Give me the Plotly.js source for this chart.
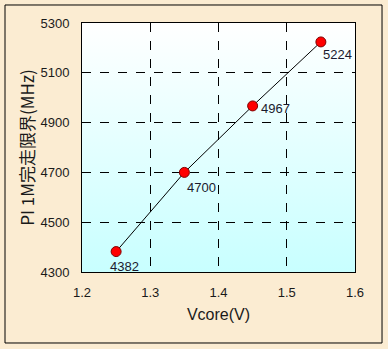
<!DOCTYPE html>
<html>
<head>
<meta charset="utf-8">
<script src="https://cdn.plot.ly/plotly-3.0.1.min.js"></script>
<style>html,body{margin:0;padding:0;background:#fbecd2;}#chart{width:388px;height:349px;}</style>
</head>
<body>
<div id="chart"></div>
<script>
var vcore = [1.25, 1.35, 1.45, 1.55];
var mhz = [4382, 4700, 4967, 5224];
var xTicks = [1.2, 1.3, 1.4, 1.5, 1.6];
var yTicks = [4300, 4500, 4700, 4900, 5100, 5300];
var labelAnchorX = ['left', 'left', 'left', 'left'];
var labelAnchorY = ['top', 'top', 'middle', 'top'];
var labelShiftX = [-8, 1, 6, 0];
var labelShiftY = [-5, -6, -3, -3];

var grad = '<svg xmlns="http://www.w3.org/2000/svg" width="100" height="100" preserveAspectRatio="none"><defs><linearGradient id="g" x1="0" y1="0" x2="0" y2="1"><stop offset="0" stop-color="#ffffff"/><stop offset="1" stop-color="#c8ffff"/></linearGradient></defs><rect width="100" height="100" fill="url(#g)"/></svg>';
var gradSrc = 'data:image/svg+xml;base64,' + btoa(grad);

var annotations = vcore.map(function (v, i) {
  return {
    x: v, y: mhz[i], xref: 'x', yref: 'y', text: String(mhz[i]), showarrow: false,
    xanchor: labelAnchorX[i], yanchor: labelAnchorY[i], xshift: labelShiftX[i], yshift: labelShiftY[i],
    font: {family: 'Liberation Sans, Arial, sans-serif', size: 13, color: '#1a1a2e'}
  };
});

var data = [{
  x: vcore, y: mhz, type: 'scatter', mode: 'lines+markers',
  line: {color: '#000000', width: 1},
  marker: {color: '#ff0000', size: 10, line: {color: '#800000', width: 1}},
  hoverinfo: 'x+y'
}];

var layout = {
  width: 388, height: 349,
  margin: {l: 82, r: 33, t: 23, b: 77},
  paper_bgcolor: '#fbecd2',
  plot_bgcolor: '#ffffff',
  showlegend: false,
  font: {family: 'Liberation Sans, Arial, sans-serif', size: 13, color: '#1a1a1a'},
  xaxis: {
    range: [1.2, 1.6], tickvals: xTicks, ticktext: xTicks.map(function (t) { return t.toFixed(1); }),
    showgrid: true, gridcolor: '#000000', griddash: 'dash', gridwidth: 1,
    showline: true, linecolor: '#000000', linewidth: 1, mirror: true,
    ticks: '', zeroline: false, ticklabelstandoff: 8,
    title: {text: 'Vcore(V)', font: {size: 16, family: 'Liberation Sans, Arial, sans-serif', color: '#1a1a1a'}, standoff: 10}
  },
  yaxis: {
    range: [4300, 5300], tickvals: yTicks,
    showgrid: true, gridcolor: '#000000', griddash: 'dash', gridwidth: 1,
    showline: true, linecolor: '#000000', linewidth: 1, mirror: true,
    ticks: '', zeroline: false, ticklabelstandoff: 9,
    title: {text: 'PI 1M完走限界(MHz)', font: {size: 17, family: 'Noto Sans CJK JP, sans-serif', color: '#1a1a1a'}, standoff: 1}
  },
  images: [{
    source: gradSrc, xref: 'paper', yref: 'paper', x: 0, y: 1, sizex: 1, sizey: 1,
    sizing: 'stretch', xanchor: 'left', yanchor: 'top', layer: 'below'
  }],
  shapes: [{
    type: 'rect', xref: 'paper', yref: 'paper',
    x0: -0.282, x1: 1.099, y0: -0.2851, y1: 1.0723,
    line: {color: '#000000', width: 1}, fillcolor: 'rgba(0,0,0,0)'
  }],
  annotations: annotations
};

Plotly.newPlot('chart', data, layout, {displayModeBar: false, staticPlot: true});
</script>
</body>
</html>
